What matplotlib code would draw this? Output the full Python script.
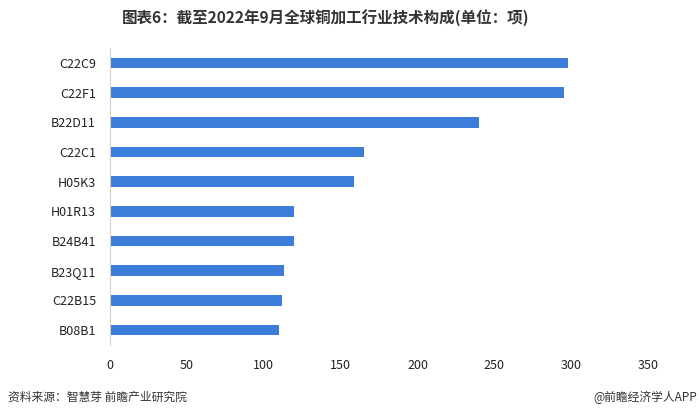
import matplotlib
matplotlib.use("Agg")
import matplotlib.pyplot as plt

plt.rcParams['font.family'] = ['Noto Sans CJK SC', 'DejaVu Sans']

# 技术分类（IPC）与专利数量
codes = ["C22C9", "C22F1", "B22D11", "C22C1", "H05K3",
         "H01R13", "B24B41", "B23Q11", "C22B15", "B08B1"]
counts = [298, 295, 240, 165, 159, 120, 120, 113, 112, 110]
xticks = [0, 50, 100, 150, 200, 250, 300, 350]

fig = plt.figure(figsize=(7, 4.18), dpi=100)
ax = fig.add_axes([0.157, 0.175, 0.769, 0.71])

ypos = list(range(len(codes)))
ax.barh(ypos, counts, height=0.36, color="#3b7dd8")
ax.set_ylim(len(codes) - 0.5, -0.5)
ax.set_xlim(0, 350)
ax.set_yticks(ypos)
ax.set_yticklabels(codes, fontsize=9, color="#222222")
ax.set_xticks(xticks)
ax.set_xticklabels([str(v) for v in xticks], fontsize=9, color="#222222")
ax.tick_params(length=0, pad=10)
ax.tick_params(axis="x", pad=10)

for s in ["top", "right", "bottom"]:
    ax.spines[s].set_visible(False)
ax.spines["left"].set_color("#d8cfc0")
ax.spines["left"].set_linewidth(0.8)

fig.text(0.465, 0.955, "图表6：截至2022年9月全球铜加工行业技术构成(单位：项)",
         ha="center", va="center", fontsize=11.2, fontweight="bold", color="#333333")
fig.text(0.012, 0.05, "资料来源：智慧芽 前瞻产业研究院", ha="left", va="center",
         fontsize=8.5, color="#333333")
fig.text(0.996, 0.05, "@前瞻经济学人APP", ha="right", va="center",
         fontsize=8.5, color="#333333")

fig.savefig("out.png", dpi=100)
